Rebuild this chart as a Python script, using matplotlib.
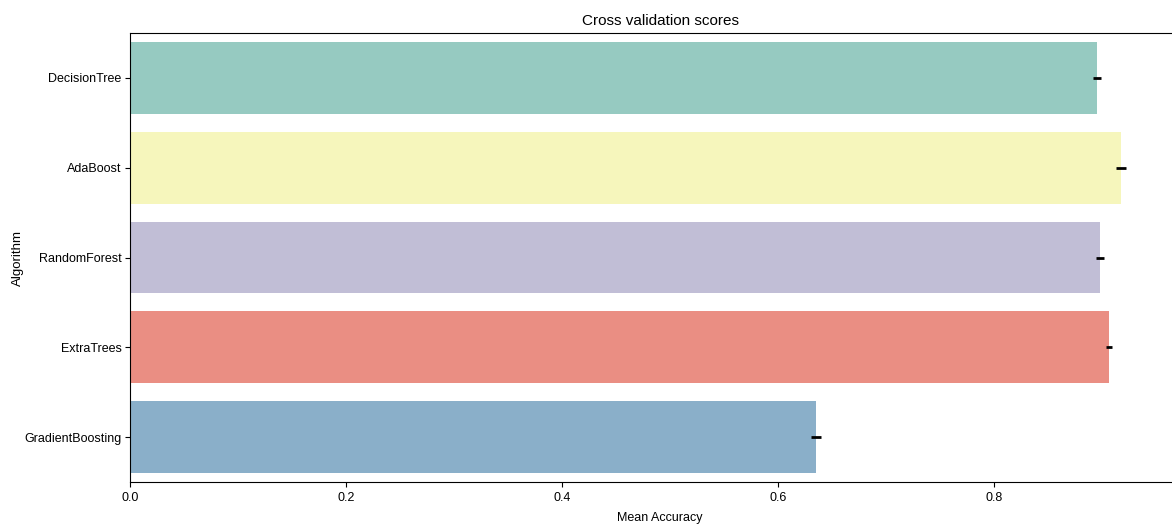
import numpy as np
import matplotlib
matplotlib.use("Agg")
import matplotlib.pyplot as plt
import seaborn as sns

# Cross validation results per algorithm
algorithms = ["DecisionTree", "AdaBoost", "RandomForest", "ExtraTrees", "GradientBoosting"]
cv_means = [0.8954, 0.9176, 0.898, 0.9065, 0.635]
cv_std = [0.004, 0.0045, 0.0035, 0.003, 0.0045]
xticks = [0.0, 0.2, 0.4, 0.6, 0.8]

colors = [sns.desaturate(c, 0.75) for c in sns.color_palette("Set3", len(algorithms))]

plt.rcParams["font.family"] = ["Liberation Sans", "DejaVu Sans"]

W, H = 1172, 528
fig = plt.figure(figsize=(W / 100, H / 100), dpi=100)
ax = fig.add_axes([130 / W, 1 - 482 / H, (1190 - 130) / W, (482 - 33) / H])

y = np.arange(len(algorithms))
ax.barh(y, cv_means, height=0.8, color=colors)
ax.errorbar(cv_means, y, xerr=cv_std, fmt="none", ecolor="black", elinewidth=2)

ax.set_yticks(y)
ax.set_yticklabels(algorithms, fontsize=9)
ax.tick_params(axis="y", pad=2.5)
ax.set_ylim(4.5, -0.5)
ax.set_xlim(0, (1190 - 130) / 1080)
ax.set_xticks(xticks)
ax.set_xticklabels([f"{t:.1f}" for t in xticks], fontsize=9)
ax.set_xlabel("Mean Accuracy", fontsize=9, labelpad=6)
ax.set_ylabel("Algorithm", fontsize=9.5)
ax.yaxis.set_label_coords(-106 / (1190 - 130), 0.5)
ax.set_title("Cross validation scores", fontsize=11)

fig.savefig("out.png", dpi=100)
